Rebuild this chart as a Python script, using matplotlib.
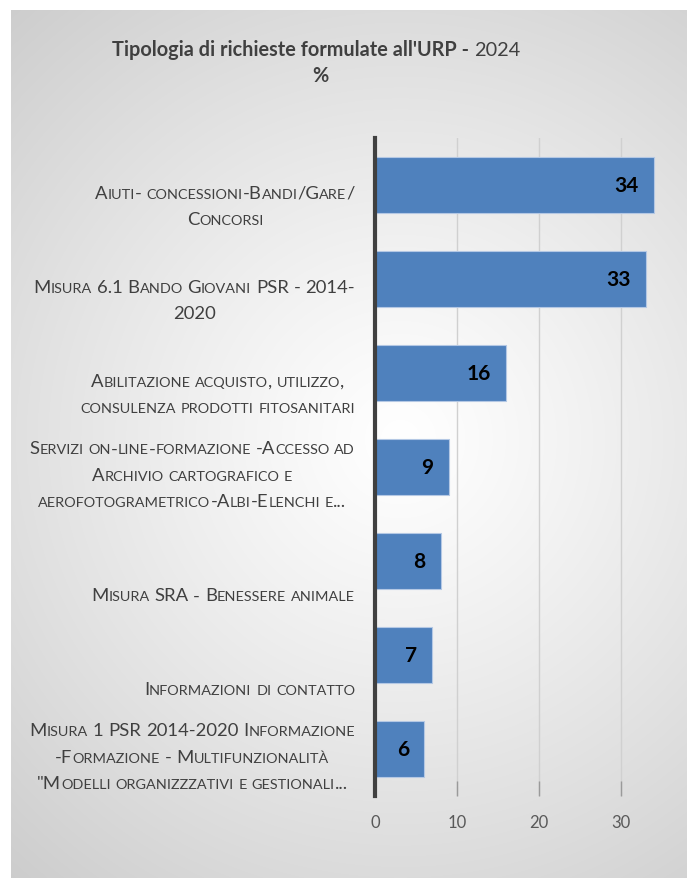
import numpy as np
import matplotlib
matplotlib.use("Agg")
import matplotlib.pyplot as plt
from matplotlib.font_manager import FontProperties
from matplotlib.transforms import IdentityTransform

# ---- data -------------------------------------------------------------
categories = [
    "Aiuti- concessioni-Bandi/Gare/\nConcorsi",
    "Misura 6.1 Bando Giovani PSR - 2014-\n2020",
    "Abilitazione acquisto, utilizzo,\nconsulenza prodotti fitosanitari",
    "Servizi on-line-formazione -Accesso ad\nArchivio cartografico e\naerofotogrametrico-Albi-Elenchi e...",
    "Misura SRA - Benessere animale",
    "Informazioni di contatto",
    "Misura 1 PSR 2014-2020 Informazione\n-Formazione - Multifunzionalità\n\"Modelli organizzzativi e gestionali...",
]
values = [34, 33, 16, 9, 8, 7, 6]
xticks = [0, 10, 20, 30]
title_main = "Tipologia di richieste formulate all'URP - "
title_year = "2024"
title_unit = "%"

# ---- style ------------------------------------------------------------
FONT = "Lato"
BAR = "#4f81bd"
TXT = "#404040"
W, H = 687, 879

fig = plt.figure(figsize=(W / 100, H / 100), dpi=100, facecolor="white")

# radial grey gradient panel (white centre, grey edges)
bg = fig.add_axes([11 / W, 0, 1 - 11 / W, (H - 11) / H])
bg.axis("off")
xx, yy = np.meshgrid(np.arange(11, W), np.arange(11, H))
d = np.hypot(xx - 400, yy - 440)
g = np.clip(1 - 0.20 * (d / 593) ** 1.15, 0, 1)
bg.imshow(np.dstack([g, g, g]), aspect="auto", interpolation="bilinear")

# main axes: x 0 at 375px, 8.2 px per unit; y from 139 to 797 px
ax = fig.add_axes([375 / W, (H - 797) / H, 35 * 8.2 / W, 658 / H])
ax.set_facecolor("none")
y = np.arange(len(values))
ax.barh(y, values, height=0.6, color=BAR, edgecolor="#b4c8e4", linewidth=0.8, zorder=3)
ax.set_xlim(0, 35)
ax.set_ylim(len(values) - 0.5, -0.5)
ax.set_xticks(xticks)
ax.set_yticks([])
ax.xaxis.grid(True, color="#d0d0d0", linewidth=1)
ax.set_axisbelow(True)
for s in ["top", "right", "bottom"]:
    ax.spines[s].set_visible(False)
ax.spines["left"].set_color("#404040")
ax.spines["left"].set_linewidth(3)
ax.spines["left"].set_zorder(4)
ax.tick_params(axis="x", direction="in", length=11, color="#9a9a9a", width=1,
               pad=13, labelsize=12, labelcolor="#595959")
for lab in ax.get_xticklabels():
    lab.set_family(FONT)

for yi, v in zip(y, values):
    ax.annotate(str(v), (v, yi), xytext=(-11, 0), textcoords="offset points",
                ha="right", va="center", fontsize=15, fontweight="bold",
                color="black", family=FONT, zorder=5)

# ---- text helpers (small caps drawn as runs of two sizes) ---------------
rend = fig.canvas.get_renderer()
ID = IdentityTransform()


def width(s, prop):
    a = rend.get_text_width_height_descent("x" + s + "x", prop, ismath=False)[0]
    b = rend.get_text_width_height_descent("xx", prop, ismath=False)[0]
    return a - b


def runs_of(line, big, small):
    out = []
    for ch in line:
        if ch == " ":
            key, t, p = "sp", ch, big
        elif ch.islower():
            key, t, p = "s", ch.upper(), small
        else:
            key, t, p = "b", ch, big
        if out and out[-1][0] == key:
            out[-1][1] += t
        else:
            out.append([key, t, p])
    return out


def draw_pieces(pieces, x0, base, color):
    x = x0
    for key, t, prop in pieces:
        w = width(t, prop)
        if key != "sp":
            fig.text(x, base, t, fontproperties=prop, color=color,
                     transform=ID, ha="left", va="baseline")
        x += w


def pieces_width(pieces):
    return sum(width(t, p) for _, t, p in pieces)


LS = 13.3
BIG = FontProperties(family=FONT, size=LS)
SMALL = FontProperties(family=FONT, size=LS * 0.78)
LINE = 26.5
RIGHT = 355
CAP = 13

for i, cat in enumerate(categories):
    lines = cat.split("\n")
    n = len(lines)
    last = ax.transData.transform((0, i + 0.35))[1]
    plines = [runs_of(l, BIG, SMALL) for l in lines]
    ws = [pieces_width(p) for p in plines]
    block = max(ws)
    cx = RIGHT - block / 2
    for j, (p, w) in enumerate(zip(plines, ws)):
        cy = last + (n - 1 - j) * LINE
        draw_pieces(p, cx - w / 2, cy - CAP / 2, TXT)

# title
TB = FontProperties(family=FONT, size=14.3, weight="bold")
TR = FontProperties(family=FONT, size=14.3)
tpieces = [("b", title_main, TB), ("b", title_year, TR)]
tw = pieces_width(tpieces)
draw_pieces(tpieces, 316 - tw / 2, H - 56, TXT)
fig.text(320, H - 82, title_unit, fontproperties=TB, color=TXT, transform=ID,
         ha="center", va="baseline")

fig.savefig("out.png", dpi=100, facecolor="white")
